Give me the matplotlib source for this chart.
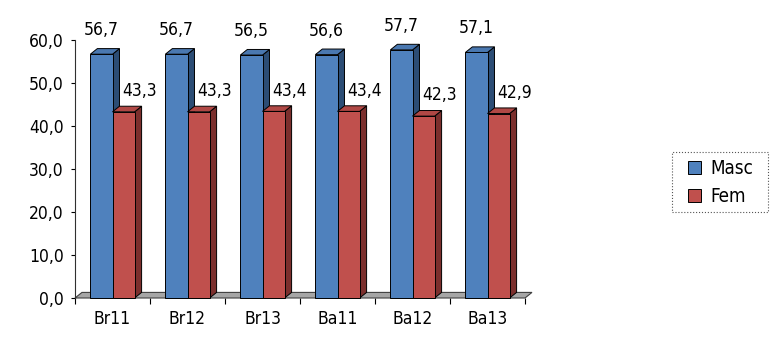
import matplotlib.pyplot as plt
from matplotlib.patches import Polygon, Rectangle
from matplotlib import font_manager

# ----------------------------------------------------------------------------------------------------------------------
# data

categories = ['Br11', 'Br12', 'Br13', 'Ba11', 'Ba12', 'Ba13']
masc = [56.7, 56.7, 56.5, 56.6, 57.7, 57.1]
fem = [43.3, 43.3, 43.4, 43.4, 42.3, 42.9]
yticks = [0, 10, 20, 30, 40, 50, 60]

# ----------------------------------------------------------------------------------------------------------------------
# font: a narrow sans if one is around

fonts = font_manager.fontManager.ttflist
names = {f.name for f in fonts}
stretch = 'normal'
if 'Liberation Sans Narrow' in names:
    font, size = 'Liberation Sans Narrow', 13.5
elif any(f.name == 'DejaVu Sans' and f.stretch == 'condensed' for f in fonts):
    font, size, stretch = 'DejaVu Sans', 12.5, 'condensed'
else:
    font, size = 'Liberation Sans', 12.5
plt.rcParams['font.family'] = [font, 'DejaVu Sans']
plt.rcParams['font.stretch'] = stretch

# ----------------------------------------------------------------------------------------------------------------------
# 3d-ish bar helper

dx, dy = 0.093, 1.3
bw = 0.295


def bar3d(ax, x0, h, front, side, top):
    ax.add_patch(Polygon([(x0 + bw, 0), (x0 + bw + dx, dy), (x0 + bw + dx, h + dy), (x0 + bw, h)],
                         facecolor=side, edgecolor='black', linewidth=0.7, zorder=3, clip_on=False))
    ax.add_patch(Polygon([(x0, h), (x0 + dx, h + dy), (x0 + bw + dx, h + dy), (x0 + bw, h)],
                         facecolor=top, edgecolor='black', linewidth=0.7, zorder=3, clip_on=False))
    ax.add_patch(Polygon([(x0, 0), (x0, h), (x0 + bw, h), (x0 + bw, 0)],
                         facecolor=front, edgecolor='black', linewidth=0.7, zorder=3, clip_on=False))


fig = plt.figure(figsize=(7.7, 3.38), dpi=100)
ax = fig.add_axes([75 / 770, 1 - 298 / 338, 450 / 770, 258 / 338])

# floor
ax.add_patch(Polygon([(0, 0), (6, 0), (6 + dx, dy), (dx, dy)], facecolor='#a6a6a6',
                     edgecolor='#404040', linewidth=0.8, zorder=2, clip_on=False))

for i in range(len(categories)):
    c = i + 0.5
    bar3d(ax, c - bw, masc[i], '#4f81bd', '#2c4d75', '#4a78b0')
    bar3d(ax, c, fem[i], '#c0504d', '#7b2f2d', '#b04845')
    ax.text(c - bw / 2, masc[i] + 5.6, f'{masc[i]:.1f}'.replace('.', ','), ha='center', va='center', fontsize=size)
    ax.text(c + bw / 2 + 0.21, fem[i] + 4.8, f'{fem[i]:.1f}'.replace('.', ','), ha='center', va='center', fontsize=size)

ax.set_xlim(0, 6)
ax.set_ylim(0, 60)
for s in ['top', 'right', 'bottom']:
    ax.spines[s].set_visible(False)
ax.spines['left'].set_linewidth(0.8)
ax.spines['left'].set_color('#303030')

ax.set_yticks(yticks)
ax.set_yticklabels([f'{v:.1f}'.replace('.', ',') for v in yticks], fontsize=size)
ax.tick_params(axis='y', length=3, width=0.8, pad=5)

ax.set_xticks(range(7))
ax.set_xticklabels([])
ax.tick_params(axis='x', which='major', length=4, width=0.8, direction='out')
ax.set_xticks([i + 0.5 for i in range(6)], minor=True)
ax.set_xticklabels(categories, minor=True, fontsize=size)
ax.tick_params(axis='x', which='minor', length=0, pad=9)

# legend: dotted box drawn separately, entries without a frame
fig.patches.append(Rectangle((672 / 770, 1 - 212 / 338), 96 / 770, 60 / 338, transform=fig.transFigure,
                             facecolor='white', edgecolor='#555555', linestyle=':', linewidth=0.8))
handles = [Polygon([(0, 0)], facecolor='#4f81bd', edgecolor='black', linewidth=0.7),
           Polygon([(0, 0)], facecolor='#c0504d', edgecolor='black', linewidth=0.7)]
leg = fig.legend(handles, ['Masc', 'Fem'], loc='upper left', bbox_to_anchor=(684 / 770, 1 - 155 / 338),
                 fontsize=size + 1, frameon=False, handlelength=0.7, handleheight=0.7,
                 handletextpad=0.5, borderpad=0.2, labelspacing=0.5, borderaxespad=0)

fig.savefig('out.png', dpi=100)
